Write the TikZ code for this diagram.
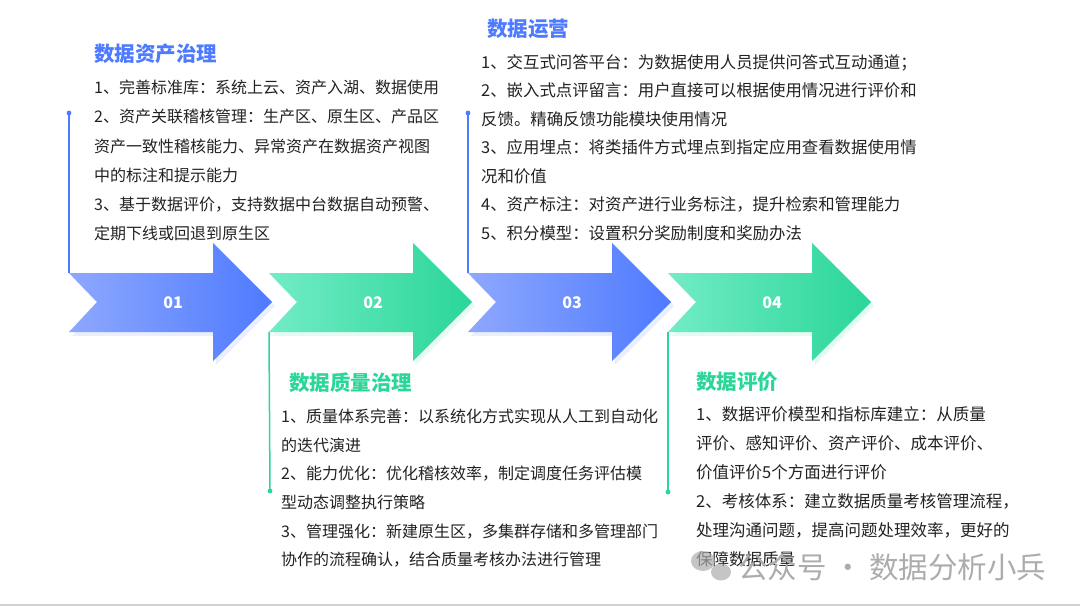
\documentclass[tikz,border=0pt]{standalone}
\usepackage{fontspec}
\setmainfont{Noto Sans CJK SC}
\usetikzlibrary{positioning}
\definecolor{dablue}{RGB}{78,122,255}
\definecolor{dablueL}{RGB}{142,168,255}
\definecolor{dagreen}{RGB}{42,214,152}
\definecolor{dagreenL}{RGB}{114,236,198}
\definecolor{datext}{RGB}{34,34,34}
\definecolor{damark}{RGB}{172,172,172}

\begin{document}
\begin{tikzpicture}[x=1pt,y=-1pt,
    body/.style={font=\fontsize{16}{29.2}\selectfont,text=datext,align=left,anchor=north west,inner sep=0pt},
    head/.style={font=\fontsize{20.5}{24}\selectfont\bfseries,anchor=west,inner sep=0pt},
    num/.style={font=\fontsize{16}{18}\selectfont\bfseries,text=white,inner sep=0pt},
    guide/.style={line width=1.5pt}]
        \useasboundingbox (0,0) rectangle (1080,610);
        % chevron arrows
        \foreach \i/\x/\c in {1/69/blue,2/269/green,3/468/blue,4/668/green}{
          \fill[da\c,opacity=0.12] (\x+3,277) -- ++(144,0) -- ++(0,-30) -- ++(59,59) -- ++(-59,59) -- ++(0,-29) -- ++(-144,0) -- ++(28,-30) -- cycle;
          \shade[left color=da\c L,right color=da\c] (\x,273) -- ++(144,0) -- ++(0,-30) -- ++(59,59) -- ++(-59,59) -- ++(0,-29) -- ++(-144,0) -- ++(28,-30) -- cycle;
          \coordinate (c\i) at (\x,273);
          \coordinate (d\i) at (\x,332);
          \node[num] (n\i) at (\x+104,303) {0\i};
        }
        \coordinate (t1) at (69,113); \coordinate (t3) at (468,113);
        \coordinate (t2) at (270,491); \coordinate (t4) at (668,492);
        \draw[guide,dablue] (t1) -- (c1); \fill[dablue] (t1) circle (2.4);
        \draw[guide,dablue] (t3) -- (c3); \fill[dablue] (t3) circle (2.4);
        \draw[guide,dagreen] (t2) -- (d2); \fill[dagreen] (t2) circle (2.4);
        \draw[guide,dagreen] (t4) -- (d4); \fill[dagreen] (t4) circle (2.4);
        % titles and texts
        \node[head,text=dablue] (h1) at (94,54) {数据资产治理};
        \node[body] (b1) at (94,80) {1、完善标准库：系统上云、资产入湖、数据使用\\2、资产关联稽核管理：生产区、原生区、产品区\\资产一致性稽核能力、异常资产在数据资产视图\\中的标注和提示能力\\3、基于数据评价，支持数据中台数据自动预警、\\定期下线或回退到原生区};
        \node[head,text=dablue] (h3) at (487,29) {数据运营};
        \node[body,font=\fontsize{16.4}{28.5}\selectfont] (b3) at (481,54) {1、交互式问答平台：为数据使用人员提供问答式互动通道；\\2、嵌入式点评留言：用户直接可以根据使用情况进行评价和\\反馈。精确反馈功能模块使用情况\\3、应用埋点：将类插件方式埋点到指定应用查看数据使用情\\况和价值\\4、资产标注：对资产进行业务标注，提升检索和管理能力\\5、积分模型：设置积分奖励制度和奖励办法};
        \node[head,text=dagreen] (h2) at (289,383) {数据质量治理};
        \node[body,font=\fontsize{16}{28.6}\selectfont] (b2) at (281,409) {1、质量体系完善：以系统化方式实现从人工到自动化\\的迭代演进\\2、能力优化：优化稽核效率，制定调度任务评估模\\型动态调整执行策略\\3、管理强化：新建原生区，多集群存储和多管理部门\\协作的流程确认，结合质量考核办法进行管理};
        \node[head,text=dagreen] (h4) at (696,382) {数据评价};
        \node[body,font=\fontsize{16.5}{29}\selectfont] (b4) at (696,406) {1、数据评价模型和指标库建立：从质量\\评价、感知评价、资产评价、成本评价、\\价值评价5个方面进行评价\\2、考核体系：建立数据质量考核管理流程，\\处理沟通问题，提高问题处理效率，更好的\\保障数据质量};
        % watermark
        \fill[damark,opacity=0.7] (703,561) ellipse (12 and 10);
        \fill[damark,opacity=0.7] (721,572) ellipse (10 and 8.5);
        \node[font=\fontsize{29.5}{31}\selectfont,text=damark,anchor=west,inner sep=0pt] (wm) at (738,567) {公众号 · 数据分析小兵};
        \draw[black!18,line width=1.2pt] (0,605) -- (1080,605);
      \end{tikzpicture}
\end{document}
